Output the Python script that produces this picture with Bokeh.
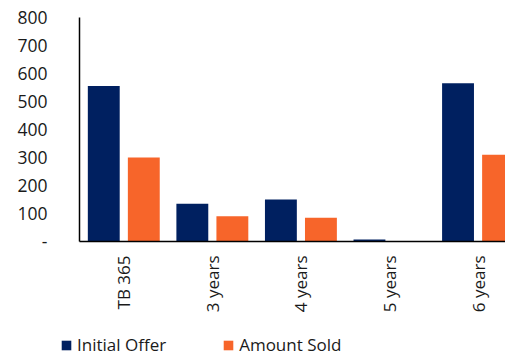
import math
from bokeh.plotting import figure
from bokeh.layouts import column
from bokeh.models import ColumnDataSource, Range1d, FixedTicker, Legend, LegendItem
from bokeh.transform import dodge
from bokeh.embed import file_html
from bokeh.resources import INLINE

categories = ["TB 365", "3 years", "4 years", "5 years", "6 years"]
initial_offer = [555, 135, 150, 7, 565]
amount_sold = [300, 90, 85, 2, 310]
y_ticks = [0, 100, 200, 300, 400, 500, 600, 700, 800]
series_names = ["Initial Offer", "Amount Sold"]

NAVY = "#002060"
ORANGE = "#F7652A"
FONT = "Open Sans"
TEXT = "#1a1a1a"

xs = [i + 0.5 for i in range(len(categories))]
src = ColumnDataSource(dict(x=xs, cat=categories, offer=initial_offer, sold=amount_sold))

p = figure(width=505, height=330, output_backend="svg", toolbar_location=None,
           x_range=Range1d(0, 4.81), y_range=Range1d(0, 800),
           min_border_left=79, min_border_right=0, min_border_top=17,
           min_border_bottom=89)
p.outline_line_color = None
p.xgrid.visible = False
p.ygrid.visible = False

p.vbar(x=dodge("x", -0.226, range=p.x_range), top="offer", width=0.36,
       source=src, fill_color=NAVY, line_color=None)
p.vbar(x=dodge("x", 0.226, range=p.x_range), top="sold", width=0.36,
       source=src, fill_color=ORANGE, line_color=None)

# y axis: hundreds, zero shown as a dash
p.yaxis.ticker = FixedTicker(ticks=y_ticks)
p.yaxis.major_label_overrides = {0: "-"}
p.yaxis.major_tick_line_color = None
p.yaxis.minor_tick_line_color = None
p.yaxis.major_label_standoff = 26
p.yaxis.axis_line_color = "black"
p.yaxis.axis_line_width = 1.5
p.yaxis.major_label_text_font = FONT
p.yaxis.major_label_text_font_size = "17.5px"
p.yaxis.major_label_text_color = TEXT

# x axis: one label per tenor, reading upwards
p.xaxis.ticker = FixedTicker(ticks=xs)
p.xaxis.major_label_overrides = {x: c for x, c in zip(xs, categories)}
p.xaxis.major_label_orientation = math.pi / 2
p.xaxis.major_tick_line_color = None
p.xaxis.minor_tick_line_color = None
p.xaxis.major_label_standoff = 8
p.xaxis.axis_line_color = "black"
p.xaxis.axis_line_width = 1.5
p.xaxis.major_label_text_font = FONT
p.xaxis.major_label_text_font_size = "17px"
p.xaxis.major_label_text_color = TEXT

# legend strip underneath the chart, keyed by swatches kept out of view
lg = figure(width=505, height=26, output_backend="svg", toolbar_location=None,
            x_range=Range1d(0, 1), y_range=Range1d(0, 1),
            x_axis_type=None, y_axis_type=None,
            min_border=0, outline_line_color=None)
lg.frame_align = False
lg.grid.visible = False
k1 = lg.vbar(x=[-5], top=[-5], bottom=[-6], width=0.1, fill_color=NAVY, line_color=None)
k2 = lg.vbar(x=[-5], top=[-5], bottom=[-6], width=0.1, fill_color=ORANGE, line_color=None)
legend = Legend(items=[LegendItem(label=series_names[0], renderers=[k1]),
                       LegendItem(label=series_names[1], renderers=[k2])],
                orientation="horizontal", location=(60, 0),
                glyph_width=12, glyph_height=12, label_standoff=5, spacing=56,
                label_height=12, label_text_line_height=1.0,
                padding=0, margin=0, border_line_color=None,
                background_fill_alpha=0,
                label_text_font=FONT, label_text_font_size="17px",
                label_text_color=TEXT)
lg.add_layout(legend, "center")

open("out.html", "w").write(file_html(column(p, lg, spacing=0), INLINE))
